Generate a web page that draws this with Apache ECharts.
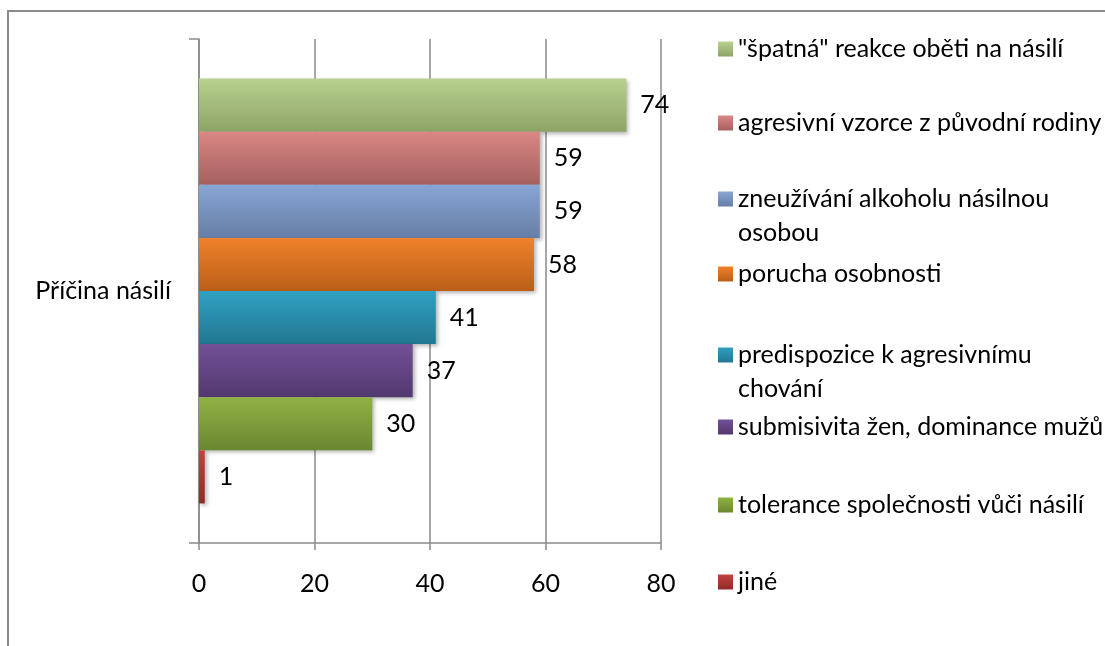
<!DOCTYPE html>
<html>
<head>
<meta charset="utf-8">
<script src="https://cdn.jsdelivr.net/npm/echarts@6/dist/echarts.min.js"></script>
<style>
  html, body { margin: 0; padding: 0; background: #fff; }
  #chart { width: 1105px; height: 646px; }
</style>
</head>
<body>
<div id="chart"></div>
<script>
// data
const categories = ['Příčina násilí'];
const seriesNames = [
  '"špatná" reakce oběti na násilí',
  'agresivní vzorce z původní rodiny',
  'zneužívání alkoholu násilnou osobou',
  'porucha osobnosti',
  'predispozice k agresivnímu chování',
  'submisivita žen, dominance mužů',
  'tolerance společnosti vůči násilí',
  'jiné',
];
const values = [74, 59, 59, 58, 41, 37, 30, 1];
const xTicks = [0, 20, 40, 60, 80];

// legend entries wrapped as in the original (first line, second line)
const legendWrap = {
  'zneužívání alkoholu násilnou osobou': ['zneužívání alkoholu násilnou', 'osobou'],
  'predispozice k agresivnímu chování': ['predispozice k agresivnímu', 'chování'],
};

// [top, bottom] gradient colours per series
const COLORS = [
  ['#b8d18e', '#8ea466'],
  ['#da8785', '#a4605e'],
  ['#88a5d4', '#677fa7'],
  ['#f0822a', '#ba5e19'],
  ['#30a0c2', '#217791'],
  ['#735097', '#51386f'],
  ['#8fb244', '#6a8732'],
  ['#c3423e', '#902a28'],
];
// icon centre y of each legend entry
const LEGEND_Y = [49, 123, 199, 274, 355, 427, 505, 582];

const FONT = 'Lato';
const FS = 25;
const LH = 34;
const GRAY = '#8a8a8a';

function grad(c) {
  return new echarts.graphic.LinearGradient(0, 0, 0, 1, [
    { offset: 0, color: c[0] },
    { offset: 1, color: c[1] },
  ]);
}

const chart = echarts.init(document.getElementById('chart'));

// one legend per entry so each sits where Excel put it;
// wrapped entries get an empty line on top so the icon lines up with the first line
const legends = seriesNames.map((name, i) => {
  const wrap = legendWrap[name];
  return {
    data: [name],
    orient: 'vertical',
    left: 718,
    top: LEGEND_Y[i] - (wrap ? LH * 1.5 : LH / 2),
    padding: 0,
    itemWidth: 15,
    itemHeight: 15,
    icon: 'rect',
    selectedMode: false,
    formatter: (n) => (legendWrap[n] ? '\n' + legendWrap[n].join('\n') : n),
    itemStyle: { shadowBlur: 0, shadowOffsetX: 0, shadowOffsetY: 0 },
    textStyle: { fontFamily: FONT, fontSize: FS, lineHeight: LH, color: '#000' },
  };
});

chart.setOption({
  animation: false,
  backgroundColor: '#fff',
  textStyle: { fontFamily: FONT },
  graphic: [{
    type: 'rect',
    shape: { x: 8, y: 11, width: 1200, height: 800 },
    style: { fill: 'none', stroke: GRAY, lineWidth: 2 },
    silent: true,
  }],
  grid: { left: 199, right: 444, top: 39, bottom: 103, containLabel: false },
  legend: legends,
  xAxis: {
    type: 'value',
    min: xTicks[0],
    max: xTicks[xTicks.length - 1],
    interval: xTicks[1] - xTicks[0],
    axisLine: { show: true, lineStyle: { color: GRAY, width: 1.5 } },
    axisTick: { show: true, length: 7, lineStyle: { color: GRAY, width: 1.5 } },
    axisLabel: { color: '#000', fontFamily: FONT, fontSize: FS, margin: 28 },
    splitLine: { show: true, lineStyle: { color: GRAY, width: 1.5 } },
  },
  yAxis: {
    type: 'category',
    data: categories,
    axisLine: { show: true, lineStyle: { color: GRAY, width: 1.5 } },
    axisTick: { show: true, length: 10, lineStyle: { color: GRAY, width: 1.5 } },
    axisLabel: { color: '#000', fontFamily: FONT, fontSize: FS, margin: 28 },
  },
  series: seriesNames.map((name, i) => ({
    name,
    type: 'bar',
    data: [values[i]],
    barGap: 0,
    barCategoryGap: '15.7%',
    itemStyle: {
      color: grad(COLORS[i]),
      shadowColor: 'rgba(0,0,0,0.3)',
      shadowBlur: 4,
      shadowOffsetX: 2,
      shadowOffsetY: 2,
    },
    label: {
      show: true,
      position: 'right',
      distance: 14,
      color: '#000',
      fontFamily: FONT,
      fontSize: FS,
    },
  })),
});
</script>
</body>
</html>
